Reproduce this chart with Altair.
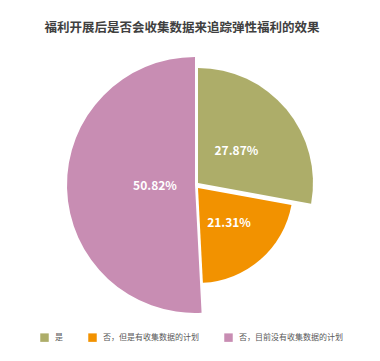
import altair as alt
import pandas as pd
import math

categories = ["是", "否，但是有收集数据的计划", "否，目前没有收集数据的计划"]
values = [27.87, 21.31, 50.82]
labels = ["27.87%", "21.31%", "50.82%"]
colors = ["#ADAD69", "#F29200", "#C88DB3"]

df = pd.DataFrame({"cat": categories, "value": values, "label": labels,
                   "idx": list(range(len(categories)))})

# per-slice geometry (style): center x, center y, radius, label radius
geom = {
    categories[0]: (198, 183, 115, 50),
    categories[1]: (198, 188, 95, 47),
    categories[2]: (195, 185, 128, 40),
}

TAU = 2 * math.pi
theta_scale = alt.Scale(domain=[0, 100], range=[0, TAU])
color_scale = alt.Scale(domain=categories, range=colors)

base = alt.Chart(df).transform_window(
    end="sum(value)", sort=[alt.SortField("idx")], frame=[None, 0]
).transform_calculate(
    start="datum.end - datum.value",
    mid="datum.end - datum.value / 2",
)

layers = []
for i, c in enumerate(categories):
    cx, cy, r, lr = geom[c]
    arc = base.transform_filter(alt.datum.cat == c).mark_arc(stroke=None).encode(
        theta=alt.Theta("start:Q", scale=theta_scale),
        theta2="end:Q",
        x=alt.value(cx), y=alt.value(cy),
        radius=alt.value(r),
        color=alt.Color("cat:N", scale=color_scale, sort=categories,
                        legend=alt.Legend(title=None, orient="none", direction="horizontal",
                                          legendX=40, legendY=333, symbolType="square",
                                          symbolSize=72, symbolStrokeWidth=0,
                                          labelFont="Noto Sans CJK SC", labelFontSize=8,
                                          labelColor="#595959", labelOffset=6,
                                          columnPadding=25, padding=0)),
    )
    txt = base.transform_filter(alt.datum.cat == c).mark_text(
        font="Noto Sans CJK SC", fontSize=12, fontWeight="bold", color="white",
        align="center", baseline="middle"
    ).encode(
        theta=alt.Theta("mid:Q", scale=theta_scale),
        x=alt.value(cx), y=alt.value(cy),
        radius=alt.value(lr),
        text="label:N",
    )
    layers += [arc, txt]

chart = alt.layer(*layers).properties(
    width=380, height=361,
    autosize=alt.AutoSizeParams(type="none"),
    padding=0,
    title=alt.TitleParams("福利开展后是否会收集数据来追踪弹性福利的效果",
                          font="Noto Sans CJK SC", fontSize=12.5, fontWeight="bold",
                          color="#404040", anchor="middle", dx=-8, offset=-34),
).configure_view(stroke=None)

chart.save("out.html", embed_options={"renderer": "svg", "actions": False})
